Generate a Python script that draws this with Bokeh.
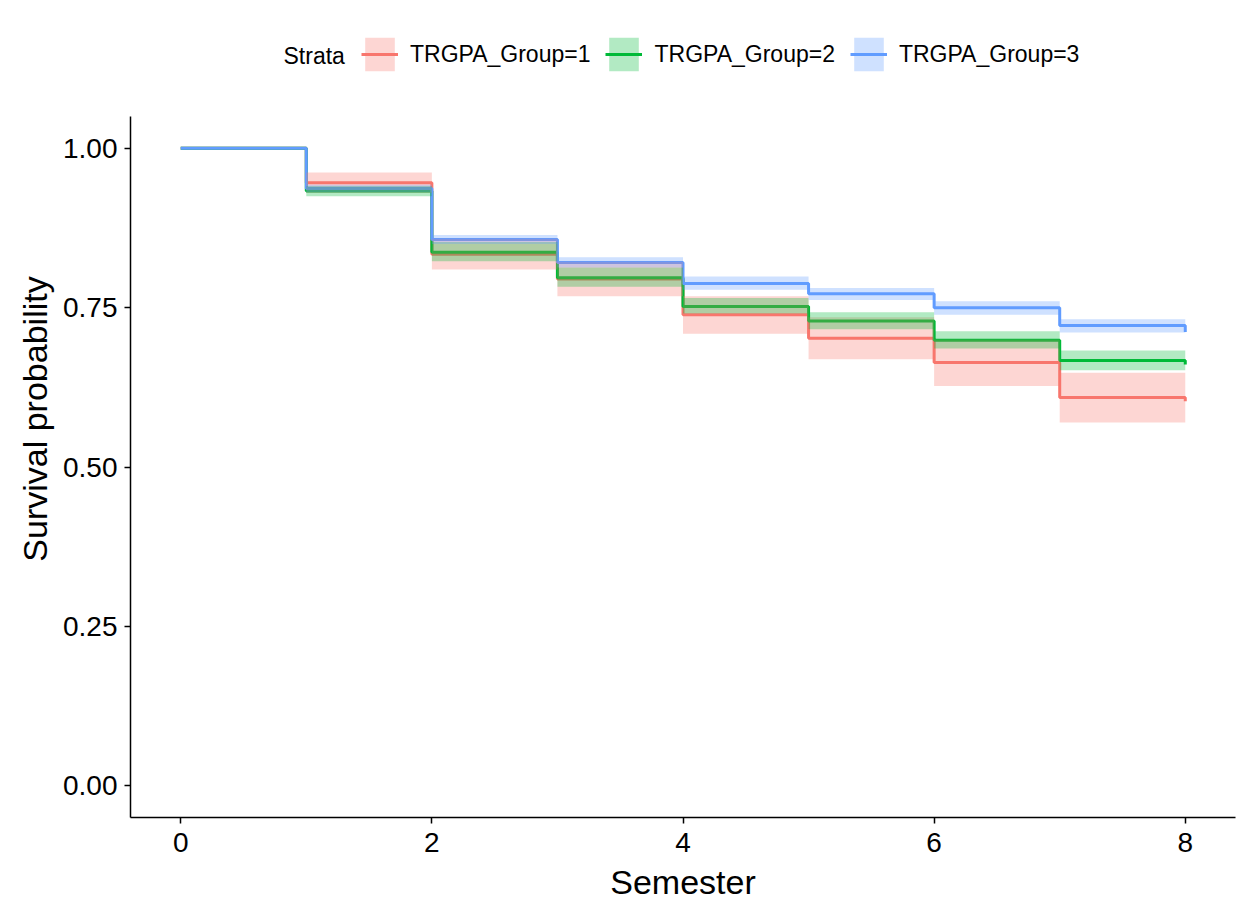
import numpy as np
from bokeh.plotting import figure
from bokeh.models import Legend, LegendItem, Label, FixedTicker, Range1d
from bokeh.embed import file_html
from bokeh.resources import INLINE

# ---------------- data ----------------
semester = [0, 1, 2, 3, 4, 5, 6, 7, 8]
group_labels = ["TRGPA_Group=1", "TRGPA_Group=2", "TRGPA_Group=3"]
legend_title = "Strata"

surv_g1 = [1.0, 0.946, 0.834, 0.795, 0.739, 0.702, 0.664, 0.609, 0.603]
upper_g1 = [1.0, 0.962, 0.858, 0.822, 0.768, 0.735, 0.700, 0.648, 0.642]
lower_g1 = [1.0, 0.930, 0.810, 0.768, 0.709, 0.669, 0.627, 0.570, 0.563]

surv_g2 = [1.0, 0.933, 0.837, 0.797, 0.752, 0.729, 0.699, 0.667, 0.661]
upper_g2 = [1.0, 0.941, 0.853, 0.813, 0.765, 0.743, 0.713, 0.683, 0.677]
lower_g2 = [1.0, 0.925, 0.823, 0.783, 0.741, 0.716, 0.686, 0.652, 0.645]

surv_g3 = [1.0, 0.937, 0.857, 0.821, 0.788, 0.772, 0.750, 0.722, 0.712]
upper_g3 = [1.0, 0.943, 0.864, 0.829, 0.799, 0.781, 0.760, 0.732, 0.722]
lower_g3 = [1.0, 0.931, 0.850, 0.813, 0.778, 0.762, 0.739, 0.711, 0.702]

x_ticks = [0, 2, 4, 6, 8]
y_ticks = [0.0, 0.25, 0.5, 0.75, 1.0]
y_tick_labels = ["0.00", "0.25", "0.50", "0.75", "1.00"]

colors = ["#F8766D", "#00BA38", "#619CFF"]
FONT = "Liberation Sans"

# ---------------- layout ----------------
W, H = 1237, 905
BORDER_L, BORDER_R, BORDER_T, BORDER_B = 130, 2, 20, 88
Y_LO, Y_HI = -0.05, 1.05          # visible panel of the survival axis
PANEL_PX = 701                    # pixel height of that panel
frame_h = H - BORDER_T - BORDER_B
y_top = Y_LO + frame_h * (Y_HI - Y_LO) / PANEL_PX   # extra room above for legend

p = figure(width=W, height=H,
           x_range=Range1d(-0.4, 8.4), y_range=Range1d(Y_LO, y_top),
           output_backend="svg", toolbar_location=None,
           min_border_left=BORDER_L, min_border_right=BORDER_R,
           min_border_top=BORDER_T, min_border_bottom=BORDER_B,
           x_axis_label="Semester", y_axis_label="Survival probability")
p.xgrid.visible = False
p.ygrid.visible = False
p.outline_line_color = None
p.background_fill_color = "white"
p.border_fill_color = "white"

p.xaxis.ticker = FixedTicker(ticks=x_ticks)
p.yaxis.ticker = FixedTicker(ticks=y_ticks)
p.yaxis.bounds = (Y_LO, Y_HI)
p.yaxis.major_label_overrides = {t: s for t, s in zip(y_ticks, y_tick_labels)}

for ax in (p.xaxis[0], p.yaxis[0]):
    ax.axis_line_color = "black"
    ax.axis_line_width = 1.5
    ax.major_tick_line_color = "black"
    ax.major_tick_line_width = 1.5
    ax.major_tick_out = 6
    ax.major_tick_in = 0
    ax.minor_tick_out = 0
    ax.minor_tick_in = 0
    ax.major_label_text_font = FONT
    ax.major_label_text_font_size = "28px"
    ax.major_label_text_color = "black"
    ax.axis_label_text_font = FONT
    ax.axis_label_text_font_size = "34px"
    ax.axis_label_text_font_style = "normal"
    ax.axis_label_text_color = "black"
p.xaxis.major_label_standoff = 9
p.yaxis.major_label_standoff = 7
p.xaxis.axis_label_standoff = 8
p.yaxis.axis_label_standoff = 6

survs = [surv_g1, surv_g2, surv_g3]
uppers = [upper_g1, upper_g2, upper_g3]
lowers = [lower_g1, lower_g2, lower_g3]

line_rs = []
for s, c in zip(survs, colors):
    r = p.step(x=semester, y=s, mode="after", line_color=c, line_width=3)
    line_rs.append(r)

band_rs = []
for lo, up, c in zip(lowers, uppers, colors):
    r = p.varea_step(x=semester, y1=lo, y2=up, step_mode="after",
                     fill_color=c, fill_alpha=0.3)
    band_rs.append(r)

items = [LegendItem(label=lab, renderers=[lr, br])
         for lab, lr, br in zip(group_labels, line_rs, band_rs)]
legend = Legend(items=items, orientation="horizontal", location=(231, 742),
                glyph_width=37, glyph_height=42, label_standoff=12, spacing=15,
                padding=0, margin=0, border_line_color=None,
                background_fill_alpha=0,
                label_text_font=FONT, label_text_font_size="23px",
                label_text_color="black", label_height=42)
p.add_layout(legend)

p.add_layout(Label(x=153, y=762, x_units="screen", y_units="screen",
                   text=legend_title, text_font=FONT, text_font_size="23px",
                   text_color="black", text_baseline="middle"))

open("out.html", "w").write(file_html(p, INLINE))
